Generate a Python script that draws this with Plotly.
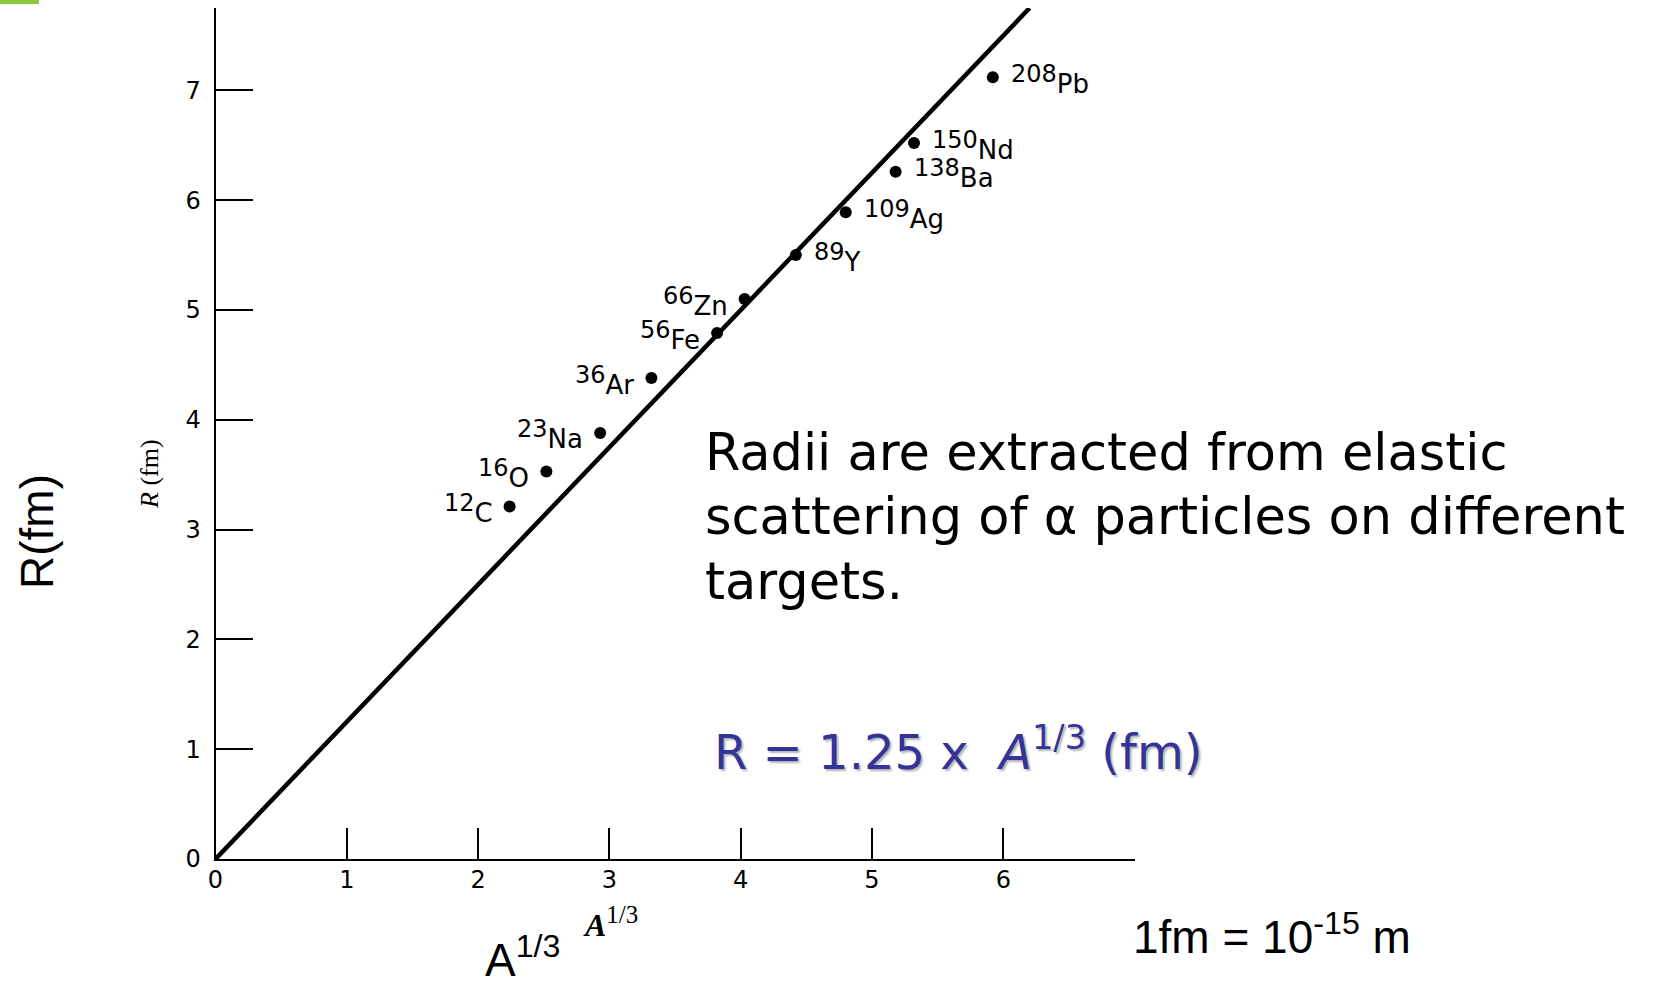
import plotly.graph_objects as go

W, H = 1655, 989

# Nuclear radii from alpha-particle elastic scattering
mass_number = [12, 16, 23, 36, 56, 66, 89, 109, 138, 150, 208]
element = ["C", "O", "Na", "Ar", "Fe", "Zn", "Y", "Ag", "Ba", "Nd", "Pb"]
a_third = [2.24, 2.52, 2.93, 3.32, 3.82, 4.03, 4.42, 4.80, 5.18, 5.32, 5.92]
radius_fm = [3.21, 3.53, 3.88, 4.38, 4.79, 5.10, 5.50, 5.89, 6.26, 6.52, 7.12]

# R = R0 * A^(1/3)
R0 = 1.25
fit_x = [0.0, 6.2]
fit_y = [R0 * v for v in fit_x]

x_ticks = [0, 1, 2, 3, 4, 5, 6]
y_ticks = [0, 1, 2, 3, 4, 5, 6, 7]
X_MAX = 7.0
Y_MAX = 7.75

# which side of its dot each nuclide label sits on
label_side = ["left"] * 6 + ["right"] * 5


def px(x):
    return x / W


def py(y):
    return 1 - y / H


TICK_FONT = dict(family="DejaVu Sans", size=24, color="black")
LABEL_FAMILY = "DejaVu Sans"
SERIF = "Liberation Serif"
ARIAL = "Liberation Sans"
TEXT_FONT = "DejaVu Sans"

fig = go.Figure()

fig.add_trace(go.Scatter(
    x=fit_x, y=fit_y, mode="lines",
    line=dict(color="black", width=4.5),
    cliponaxis=False, hoverinfo="skip", showlegend=False,
))
fig.add_trace(go.Scatter(
    x=a_third, y=radius_fm, mode="markers",
    marker=dict(color="black", size=12),
    cliponaxis=False, showlegend=False,
    text=[f"{a}{s}" for a, s in zip(mass_number, element)],
))

annotations = []
for xv, yv, a, s, side in zip(a_third, radius_fm, mass_number, element, label_side):
    annotations.append(dict(
        x=xv, y=yv, xref="x", yref="y",
        text=f"<sup><span style='font-size:24px'>{a}</span></sup>{s}",
        showarrow=False,
        xanchor="right" if side == "left" else "left",
        yanchor="middle",
        xshift=-15 if side == "left" else 16,
        yshift=-2,
        font=dict(family=LABEL_FAMILY, size=26, color="black"),
    ))

# explanatory text
text_lines = [
    "Radii are extracted from elastic",
    "scattering of \u03b1 particles on different",
    "targets.",
]
for i, line in enumerate(text_lines):
    annotations.append(dict(
        x=px(703), y=py(452 + 64.5 * i), xref="paper", yref="paper",
        text=line, showarrow=False, xanchor="left", yanchor="middle",
        font=dict(family=TEXT_FONT, size=51, color="black"),
    ))

# fitted relation
annotations.append(dict(
    x=px(712), y=py(749), xref="paper", yref="paper",
    text=f"R = {R0:.2f} x\u00a0\u00a0<i>A</i><sup>1/3</sup> (fm)",
    showarrow=False, xanchor="left", yanchor="middle",
    font=dict(family=TEXT_FONT, size=48, color="#333399",
              shadow="2px 2px 2px #b4b4b4"),
))

# unit note
annotations.append(dict(
    x=px(1131), y=py(934), xref="paper", yref="paper",
    text="1fm = 10<sup>-15</sup> m", showarrow=False,
    xanchor="left", yanchor="middle",
    font=dict(family=ARIAL, size=46, color="black"),
))

# axis titles: small serif ones next to the axes, large sans ones outside
annotations.append(dict(
    x=px(149), y=py(474), xref="paper", yref="paper",
    text="<i>R</i> (fm)", textangle=-90, showarrow=False,
    xanchor="center", yanchor="middle",
    font=dict(family=SERIF, size=26, color="black"),
))
annotations.append(dict(
    x=px(610), y=py(922), xref="paper", yref="paper",
    text="<b><i>A</i></b><sup><span style='font-size:25px'>1/3</span></sup>",
    showarrow=False, xanchor="center", yanchor="middle",
    font=dict(family=SERIF, size=32, color="black"),
))
annotations.append(dict(
    x=px(37), y=py(532), xref="paper", yref="paper",
    text="R(fm)", textangle=-90, showarrow=False,
    xanchor="center", yanchor="middle",
    font=dict(family=ARIAL, size=46, color="black"),
))
annotations.append(dict(
    x=px(522), y=py(957), xref="paper", yref="paper",
    text="A<sup>1/3</sup>", showarrow=False,
    xanchor="center", yanchor="middle",
    font=dict(family=ARIAL, size=46, color="black"),
))

x0_px, x7_px = 215.5, 215.5 + 131.3 * X_MAX
y0_px, ytop_px = 859.0, 859.0 - 109.8 * Y_MAX

fig.update_layout(
    width=W, height=H,
    margin=dict(l=0, r=0, t=0, b=0, autoexpand=False),
    paper_bgcolor="white", plot_bgcolor="white",
    showlegend=False,
    xaxis=dict(
        domain=[px(x0_px), px(x7_px)], range=[0, X_MAX],
        showline=True, linecolor="black", linewidth=2,
        ticks="inside", ticklen=31, tickwidth=2, tickcolor="black",
        tickvals=x_ticks, ticktext=[str(v) for v in x_ticks],
        tickfont=TICK_FONT, ticklabelstandoff=-2,
        showgrid=False, zeroline=False, fixedrange=True,
        automargin=False,
    ),
    yaxis=dict(
        domain=[py(y0_px), py(ytop_px)], range=[0, Y_MAX],
        showline=True, linecolor="black", linewidth=2,
        ticks="inside", ticklen=37, tickwidth=2, tickcolor="black",
        tickvals=y_ticks, ticktext=[str(v) for v in y_ticks],
        tickfont=TICK_FONT, ticklabelstandoff=8,
        showgrid=False, zeroline=False, fixedrange=True,
        automargin=False,
    ),
    annotations=annotations,
    shapes=[dict(
        type="rect", xref="paper", yref="paper",
        x0=0, x1=px(39), y0=py(4), y1=1,
        fillcolor="#8cc63f", line=dict(width=0), layer="above",
    )],
)

fig.write_html("out.html")
